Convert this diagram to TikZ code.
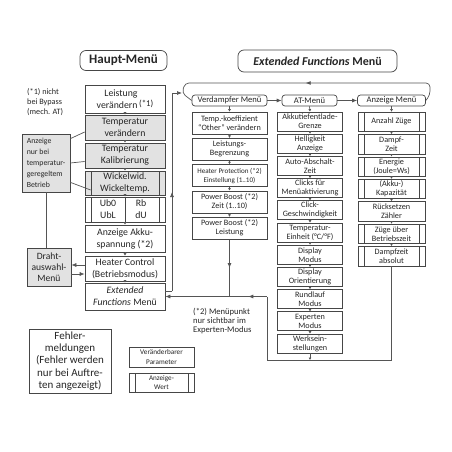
\documentclass[tikz,border=0pt]{standalone}
\usepackage{fontspec}
\setmainfont{Carlito}
\usetikzlibrary{arrows.meta,calc,decorations.markings}
\definecolor{rahmen}{RGB}{70,70,70}
\definecolor{fuell}{RGB}{226,226,226}
\definecolor{linie}{RGB}{85,85,85}

\begin{document}
\begin{tikzpicture}[x=1pt,y=-1pt,>={Latex[length=5pt,width=4pt]},
    box/.style={draw=rahmen,line width=0.7pt,fill=white,inner sep=0pt,align=center,text=black!85},
    haupt/.style={box,minimum width=80,font=\fontsize{9.8}{12}\selectfont},
    klein/.style={box,font=\fontsize{8.2}{9}\selectfont},
    titel/.style={box,rounded corners=3},
    kopf/.style={titel,minimum height=11,font=\fontsize{8.6}{9}\selectfont},
    anmerk/.style={inner sep=0pt,align=left,text=black!85},
    grau/.style={fill=fuell},
    nix/.style={},
    eng/.style={font=\fontsize{7.1}{9}\selectfont},
    wert/.style={path picture={
        \draw[rahmen,line width=0.7pt] ([xshift=6pt]path picture bounding box.north west) -- ([xshift=6pt]path picture bounding box.south west);
        \draw[rahmen,line width=0.7pt] ([xshift=-6pt]path picture bounding box.north east) -- ([xshift=-6pt]path picture bounding box.south east);}},
    conn/.style={draw=linie,line width=0.7pt},
    tip/.style={conn,-{Latex[length=2.5pt,width=3pt]}},
    pfeilmitte/.style={postaction={decorate},decoration={markings,mark=at position 0.5 with {\arrow{Latex[length=5pt,width=4pt]}}}}]
    \useasboundingbox (0,0) rectangle (452,452);

    % Titel
    \node[titel,rounded corners=6,minimum width=87,minimum height=20,font=\fontsize{13}{14}\selectfont\bfseries] (hmenu) at (123.5,60.5) {Haupt-Menü};
    \node[titel,rounded corners=6,minimum width=159,minimum height=22,font=\fontsize{12}{13}\selectfont\bfseries] (xmenu) at (317.5,61) {\textit{Extended Functions} Menü};

    % Haupt-Menü
    \node[haupt,minimum height=28] (leist) at (125,99) {Leistung\hspace*{8pt}\\verändern\,\raisebox{2pt}{\fontsize{8.8}{9}\selectfont(*1)}};
    \node[haupt,grau,minimum height=25] (tver) at (125,127.5) {Temperatur\\verändern};
    \node[haupt,grau,minimum height=25] (tkal) at (125,155.5) {Temperatur\\Kalibrierung};
    \node[haupt,grau,wert,minimum height=24] (wick) at (125,183) {Wickelwid.\\Wickeltemp.};
    \node[haupt,wert,minimum height=25] (ubox) at (125,209.5) {};
    \draw[rahmen,line width=0.7pt] (ubox.north) -- (ubox.south);
    \node[anmerk,align=center,font=\fontsize{9.8}{12}\selectfont] (ubl) at (108,209.5) {Ub0\\UbL};
    \node[anmerk,align=center,font=\fontsize{9.8}{12}\selectfont] (rbdu) at (141,209.5) {Rb\\dU};
    \node[haupt,minimum height=27] (akku) at (125,238.5) {Anzeige Akku-\\spannung (*2)};
    \node[haupt,minimum height=25] (hc) at (125,268.5) {Heater Control\\(Betriebsmodus)};
    \node[haupt,minimum height=27] (extm) at (125,296.5) {\textit{Extended}\\\textit{Functions} Menü};
    \foreach \a/\b in {leist/tver,tver/tkal,tkal/wick,wick/ubox,ubox/akku,akku/hc,hc/extm}
        \draw[tip] (\a.south) -- (\b.north);

    % links: Anmerkung, Anzeige-Box, Drahtauswahl
    \node[anmerk,anchor=north west,font=\fontsize{8.2}{10}\selectfont] (note1) at (27,88) {(*1) nicht\\bei Bypass\\(mech. AT)};
    \node[box,grau,minimum width=48,minimum height=58,align=left,font=\fontsize{7.8}{11}\selectfont] (anz) at (46,163) {Anzeige\\nur bei\\temperatur-\\geregeltem\\Betrieb};
    \node[haupt,grau,minimum width=44,minimum height=38,font=\fontsize{9.6}{11}\selectfont] (draht) at (49,267) {Draht-\\auswahl-\\Menü};
    \draw[conn] ([yshift=-5pt]anz.north east) -- ([yshift=-4.5pt]tver.west);
    \draw[conn] (anz.east) -- ([yshift=-6pt]tkal.west);
    \draw[conn] ([yshift=10pt]anz.south east) -- ([xshift=6pt,yshift=-7pt]wick.west);
    \draw[conn] (anz.south) -- (anz.south |- draht.north);
    \coordinate (hc1) at ([yshift=3.5pt]hc.west);
    \coordinate (hc2) at ([yshift=-5.5pt]hc.west);
    \draw[conn,->] (hc1) -- (hc1 -| draht.east);
    \draw[conn,->] (hc2 -| draht.east) -- (hc2);

    % Extended Functions: Untermenues
    \node[kopf,minimum width=75] (vdm) at (229.5,100.5) {Verdampfer Menü};
    \node[kopf,minimum width=55] (atm) at (309.5,100.5) {AT-Menü};
    \node[kopf,minimum width=68] (anzm) at (391.5,100.5) {Anzeige Menü};
    \draw[conn,->] (vdm.east) -- (atm.west);
    \draw[conn,->] (atm.east) -- (anzm.west);
    \coordinate (einlauf) at (182,93);
    \draw[conn,rounded corners=4,pfeilmitte] (anzm.east) -- (430,95) -- (430,83) -- (185,83) -- (einlauf) -- (vdm.west);

    % Verdampfer Menue
    \foreach \txt/\st [count=\i] in {{Temp.-koeffizient\\“Other” verändern}/nix,{Leistungs-\\Begrenzung}/nix,{Heater Protection (*2)\\Einstellung (1..10)}/eng,{Power Boost (*2)\\Zeit (1..10)}/nix,{Power Boost (*2)\\Leistung}/nix}
        \node[klein,\st,minimum width=75,minimum height=22] (vd\i) at (229.5,{123+(\i-1)*26.3}) {\txt};
    \draw[tip] (vdm.south) -- (vd1.north);
    \foreach \i [remember=\i as \j (initially 1)] in {2,...,5}
        \draw[tip] (vd\j.south) -- (vd\i.north);

    % AT-Menue
    \foreach \txt [count=\i] in {{Akkutiefentlade-\\Grenze},{Helligkeit\\Anzeige},{Auto-Abschalt-\\Zeit},{Clicks für\\Menüaktivierung},{Click-\\Geschwindigkeit},{Temperatur-\\Einheit (°C/°F)},{Display\\Modus},{Display\\Orientierung},{Rundlauf\\Modus},{Experten\\Modus},{Werksein-\\stellungen}}
        \node[klein,minimum width=65,minimum height=19] (at\i) at (310,{121.5+(\i-1)*22.2}) {\txt};
    \draw[tip] (atm.south) -- (at1.north);
    \foreach \i [remember=\i as \j (initially 1)] in {2,...,11}
        \draw[tip] (at\j.south) -- (at\i.north);

    % Anzeige Menue
    \foreach \txt/\st [count=\i] in {{Anzahl Züge}/wert,{Dampf-\\Zeit}/wert,{Energie\\(Joule=Ws)}/wert,{(Akku-)\\Kapazität}/wert,{Rücksetzen\\Zähler}/nix,{Züge über\\Betriebszeit}/wert,{Dampfzeit\\absolut}/wert}
        \node[klein,\st,minimum width=67,minimum height=19.5] (az\i) at (391.5,{121.8+(\i-1)*22.4}) {\txt};
    \draw[tip] (anzm.south) -- (az1.north);
    \foreach \i [remember=\i as \j (initially 1)] in {2,...,7}
        \draw[tip] (az\j.south) -- (az\i.north);

    % Verbindungen Haupt-Menue <-> Extended Functions
    \coordinate (hoch) at (172,93);
    \coordinate (ausgang) at ([yshift=5.5pt]extm.east);
    \draw[conn] (ausgang) -- (ausgang -| hoch);
    \draw[conn,pfeilmitte] (ausgang -| hoch) -- (hoch);
    \draw[conn,->] (hoch) -- (einlauf);
    \coordinate (unten) at (267,360);
    \draw[conn] (az7.south) |- (unten) -- (unten |- extm.east);
    \draw[conn,pfeilmitte] (unten |- extm.east) -- (vd5.south |- extm.east);
    \draw[conn,->] (vd5.south |- extm.east) -- (extm.east);
    \draw[conn,pfeilmitte] (vd5.south) -- (vd5.south |- extm.east);
    \draw[tip] (at11.south) -- (at11.south |- unten);

    % Anmerkung (*2), Fehler, Legende
    \node[anmerk,anchor=north west,font=\fontsize{8.6}{9}\selectfont] (note2) at (193,308) {(*2) Menüpunkt\\nur sichtbar im\\Experten-Modus};
    \node[box,minimum width=82,minimum height=64,font=\fontsize{11}{12.3}\selectfont] (fehler) at (70,361) {Fehler-\\meldungen\\(Fehler werden\\nur bei Auftre-\\ten angezeigt)};
    \node[box,minimum width=65,minimum height=20,font=\fontsize{7.2}{9.5}\selectfont] (legp) at (161.5,357) {Veränderbarer\\Parameter};
    \node[box,wert,minimum width=65,minimum height=19,font=\fontsize{7.2}{9.5}\selectfont] (legw) at (161.5,382.5) {Anzeige-\\Wert};
\end{tikzpicture}
\end{document}
